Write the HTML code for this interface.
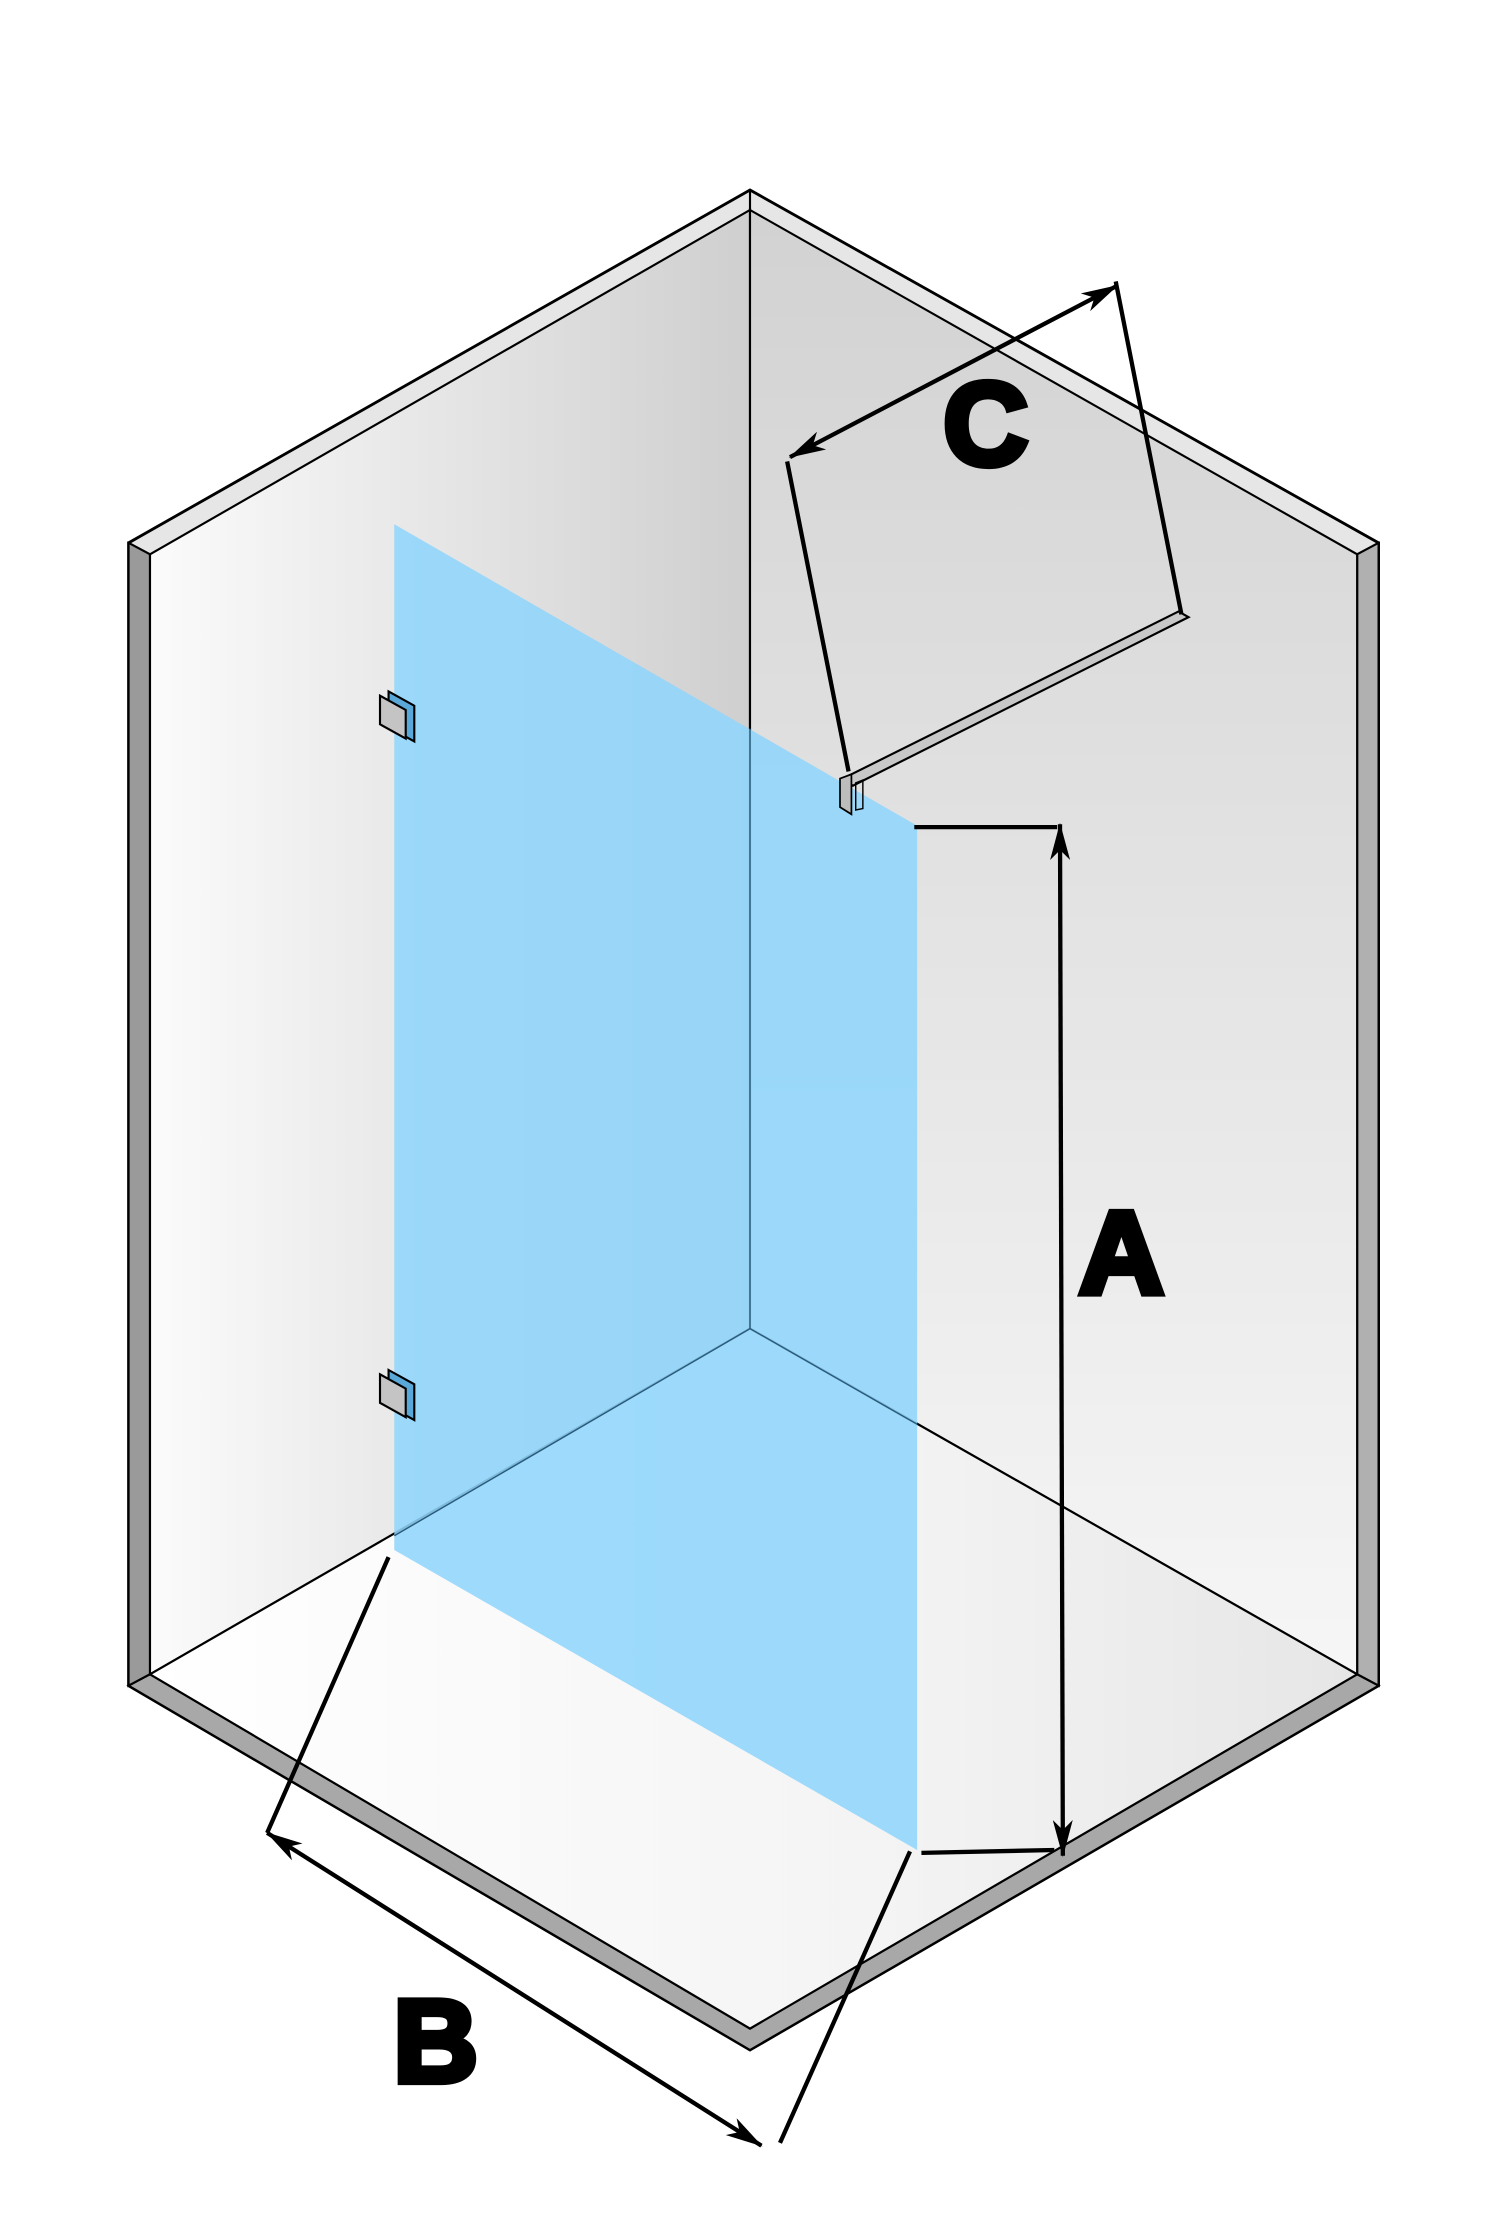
<!DOCTYPE html>
<html><head><style>html,body{margin:0;padding:0;background:#fff}svg{display:block}</style></head>
<body>
<svg width="1500" height="2230" viewBox="0 0 1050 1561" xmlns="http://www.w3.org/2000/svg">
<defs>
<linearGradient id="lw" x1="0" x2="1" y1="0" y2="0"><stop offset="0" stop-color="#fbfbfb"/><stop offset="1" stop-color="#cfcfcf"/></linearGradient>
<linearGradient id="rw" x1="0" x2="0" y1="0" y2="1"><stop offset="0" stop-color="#d2d2d2"/><stop offset="1" stop-color="#f6f6f6"/></linearGradient>
<linearGradient id="fl" x1="0" x2="1" y1="0" y2="0"><stop offset="0" stop-color="#ffffff"/><stop offset="0.6" stop-color="#f4f4f4"/><stop offset="1" stop-color="#e6e6e6"/></linearGradient>
<marker id="ar" markerWidth="26" markerHeight="14" refX="25" refY="7" orient="auto-start-reverse" markerUnits="userSpaceOnUse" viewBox="0 0 26 14"><path d="M0,0 L26,7 L0,14 L7,7z" fill="#000"/></marker>
</defs>
<polygon points="525,133 965,380 965,1180 525,1435 90,1180 90,380" fill="#e6e6e6" stroke="#000" stroke-width="2"/>
<polygon points="90,380 105,388 105,1172 90,1180" fill="#9a9a9a" stroke="#000" stroke-width="1.5"/>
<polygon points="965,380 950,388 950,1172 965,1180" fill="#b0b0b0" stroke="#000" stroke-width="1.5"/>
<polygon points="105,1172 525,1420 950,1172 965,1180 525,1435 90,1180" fill="#a8a8a8" stroke="#000" stroke-width="1.5"/>
<polygon points="105,388 525,147 525,930 105,1172" fill="url(#lw)" stroke="#000" stroke-width="1.5"/>
<polygon points="525,147 950,388 950,1172 525,930" fill="url(#rw)" stroke="#000" stroke-width="1.5"/>
<polygon points="105,1172 525,930 950,1172 525,1420" fill="url(#fl)" stroke="#000" stroke-width="1.5"/>
<line x1="525" y1="133" x2="525" y2="147" stroke="#000" stroke-width="1.5"/>
<polygon points="276,367 642,578 642,1295 276,1085" fill="#8fd5fc" fill-opacity="0.88"/>
<line x1="525" y1="510" x2="525" y2="930" stroke="#2a5a7a" stroke-width="1"/>
<line x1="525" y1="930" x2="642" y2="997" stroke="#2a5a7a" stroke-width="1"/>
<line x1="276" y1="1075" x2="525" y2="930" stroke="#2a5a7a" stroke-width="1"/>
<g stroke="#000" stroke-width="1.5">
<polygon points="272,484 290,494 290,519 272,509" fill="#5aa8d8"/>
<polygon points="266,487 284,497 284,517 266,507" fill="#c4c4c4"/>
<polygon points="272,959 290,969 290,994 272,984" fill="#5aa8d8"/>
<polygon points="266,962 284,972 284,992 266,982" fill="#c4c4c4"/>
</g>
<polygon points="590,545 825,428 832,432 597,550" fill="#c8c8c8" stroke="#000" stroke-width="1.5"/>
<polygon points="588,545 596,542 596,570 588,565" fill="#bcbcbc" stroke="#000" stroke-width="1.2"/>
<polygon points="599,548 604,546 604,566 599,567" fill="none" stroke="#000" stroke-width="1"/>
<g stroke="#000" stroke-width="3" fill="none">
<line x1="551" y1="323" x2="594" y2="540"/>
<line x1="781" y1="197" x2="827" y2="430"/>
<line x1="553" y1="320" x2="782" y2="200" marker-end="url(#ar)" marker-start="url(#ar)"/>
<line x1="640" y1="579" x2="740" y2="579"/>
<line x1="645" y1="1297" x2="738" y2="1295"/>
<line x1="742" y1="577" x2="744" y2="1299" marker-end="url(#ar)" marker-start="url(#ar)"/>
<line x1="272" y1="1090" x2="187" y2="1283"/>
<line x1="637" y1="1296" x2="546" y2="1500"/>
<line x1="187" y1="1283" x2="533" y2="1502" marker-end="url(#ar)" marker-start="url(#ar)"/>
</g>
<g font-family="Liberation Sans, sans-serif" font-weight="bold" font-size="82" fill="#000" stroke="#000" stroke-width="5" text-anchor="middle">
<text x="690" y="325">C</text>
<text x="785" y="905">A</text>
<text x="305" y="1457">B</text>
</g>
</svg>
</body></html>
